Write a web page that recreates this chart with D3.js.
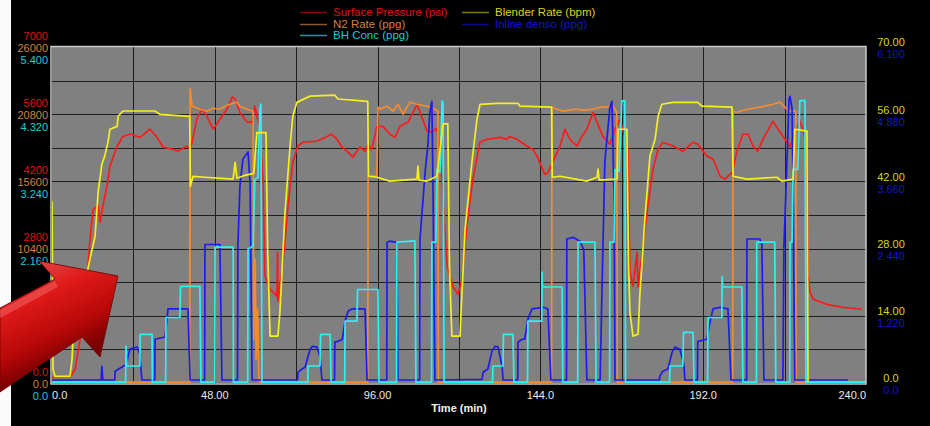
<!doctype html>
<html lang="en">
    <head>
        <meta charset="UTF-8">
        <title>d3 - Treating chart</title>
        <style>
            body { margin: 0; background: #000; }
            text { font-family: "Liberation Sans", Arial, sans-serif; }
        </style>
    </head>
    <body>
        <script src="https://d3js.org/d3.v7.min.js"></script>
        <script>
            // [time (min), value]
            var pressure = [[0,100],[5.3,104],[6.8,270],[8.8,1100],[10.6,2420],[11.2,2980],[12.1,3600],[13.6,3670],[14.2,3330],[15,3670],[16.2,4080],[17.1,4500],[19.2,4920],[20.9,5120],[23,5170],[25.9,5100],[28.9,5270],[31,5100],[32.7,4900],[35.7,4850],[37.1,4810],[39.8,4920],[40.7,4850],[41.3,5000],[42.7,5480],[44.2,5690],[45.7,5540],[47.5,5270],[49.5,5480],[51.6,5690],[53.1,5940],[54,5900],[55.4,5620],[57.5,5420],[59,5420],[59.8,5750],[61.3,5270],[62.2,4230],[62.8,2210],[64.3,1940],[66.3,1790],[66.5,2710],[66.6,1690],[68.1,2500],[69.6,3670],[71,4580],[72.5,4920],[74,5000],[78.1,5020],[81.1,5120],[82.5,5170],[84,5060],[85.5,4900],[87,4810],[88.7,4690],[90.8,4900],[92.3,4810],[93.2,4960],[94.3,4850],[95.8,5330],[97.6,5330],[99.6,5170],[101.1,5100],[102.6,5330],[105,5420],[107.6,5790],[108.5,5620],[110.6,5230],[112,5210],[113.5,5300],[115,4200],[116.5,2420],[118.2,2000],[119.7,1830],[120.9,2150],[122.3,3250],[124.1,4230],[126.2,5000],[128.2,5060],[132.1,5100],[134.1,5060],[135,5120],[137.1,5060],[140,4920],[141.8,4850],[143,4710],[145.3,4330],[146.2,4370],[147.7,4600],[149.8,4920],[151.2,5270],[152.7,5060],[154.8,4920],[156.2,5120],[157.7,5270],[159.5,5620],[162.4,5120],[164.5,4960],[166,5270],[167.5,5480],[169.8,4850],[170.4,2290],[171.3,2000],[172.5,2710],[172.8,1980],[174.2,2830],[175.7,3670],[177.2,4440],[178.7,4850],[180.1,5000],[183.1,4920],[186,4810],[189,5000],[190.4,4960],[193.1,4710],[194.9,4650],[197,4290],[198.4,4230],[200.5,4370],[201.9,4790],[203.7,5170],[205.2,5170],[206.7,4920],[208.1,4810],[209.6,5060],[212.6,5440],[213.7,5310],[216.7,5000],[217.6,4900],[218.5,5100],[220.5,5440],[221.4,5270],[222.6,4920],[222.9,2290],[223.5,1880],[224.4,1730],[228.5,1620],[233.2,1560],[238.8,1520]];

            var n2Rate = [[0,0],[40.6,0],[40.7,22700],[41.3,21360],[43.6,21120],[45.7,20970],[47.5,21200],[49.5,21120],[51,21350],[52.5,21510],[54.5,21670],[55.4,21360],[57.5,21120],[59.3,20970],[59.5,3330],[59.9,9520],[60.2,1780],[60.6,5650],[61,230],[61.3,0],[93.1,0],[93.2,15940],[95.8,15940],[96.1,21280],[96.7,21120],[98.8,21360],[100.5,20970],[102,21510],[103.5,20740],[105.5,21670],[107.6,21510],[110.6,21360],[112.9,21120],[113.8,20970],[113.9,0],[147.3,0],[147.4,21280],[150.6,20970],[154.2,21120],[157.1,21050],[159.5,21120],[161.6,21280],[163.6,21280],[165.1,21510],[166.5,20890],[166.7,0],[200.7,0],[200.8,20970],[201.9,20890],[204.9,21120],[208.7,21280],[212.6,21510],[214.6,21670],[216.1,21280],[217.6,20970],[219.3,20970],[219.4,0],[240,0]];

            var bhConc = [[0,0],[21.7,0],[21.8,0.58],[22.1,0.26],[25.9,0.26],[26,0.77],[29.5,0.77],[29.6,0],[33.5,0],[33.6,1.04],[37.7,1.04],[37.9,1.54],[43.6,1.54],[43.9,0],[48,0],[48.1,2.17],[53.4,2.17],[53.5,0],[57.7,0],[57.8,2.14],[59.3,2.19],[59.8,3.26],[60.7,3.29],[61.3,4.39],[61.6,4.47],[61.9,0],[75.4,0],[75.5,0.26],[79,0.26],[79.2,0.77],[82,0.77],[82.3,0],[86.3,0],[86.4,0.98],[89.9,0.98],[90.1,1.49],[96.1,1.49],[96.4,0],[101.6,0],[101.7,2.25],[107,2.27],[107.3,0],[111.9,0],[112,2.25],[113.2,2.25],[113.5,3.42],[114.4,3.37],[115,4.52],[115.3,4.5],[115.6,0],[129.9,0],[130,0.26],[133,0.26],[133.1,0.77],[135.9,0.77],[136.2,0],[140.2,0],[140.3,0.98],[144.4,0.98],[144.5,1.77],[144.6,1.53],[150.4,1.53],[150.6,0],[155,0],[155.1,2.25],[160.1,2.25],[160.4,0],[164.4,0],[164.5,2.25],[165.7,2.25],[166,3.42],[167.2,3.39],[168,4.52],[168.9,4.52],[169.1,0],[182.1,0],[182.2,0.26],[186,0.26],[186.2,0.8],[189,0.8],[189.3,0],[193.3,0],[193.4,1.04],[197.5,1.04],[197.6,1.7],[197.7,1.53],[203.4,1.53],[203.7,0],[207.7,0],[207.8,2.25],[213.1,2.25],[213.4,0],[217.5,0],[217.6,2.25],[218.2,2.25],[218.5,3.42],[219.9,3.42],[220.5,4.52],[222,4.53],[222.3,0],[240,0]];

            var blenderRate = [[0,37.7],[0.3,2.7],[0.9,1.2],[5.3,1.2],[5.9,4.8],[6.2,9],[8,14],[9.5,20],[11,25],[12.7,30.4],[13.6,39.6],[14.7,45.4],[15.5,47],[16.5,50],[17.1,52.7],[19.2,53.3],[19.5,55.4],[20.9,56.5],[30.4,56.5],[31.8,55.8],[40.6,55.4],[40.8,40.8],[41.6,42.9],[45.1,42.7],[53.4,42.3],[54,45.8],[54.5,42.5],[56.9,43.1],[59.5,43.5],[60.4,52],[63.1,52],[63.6,27],[64.3,9.6],[66.6,9.6],[67.2,14.6],[68.7,35.4],[70.2,49.2],[71,55.4],[72.2,58.3],[76.1,59.6],[83.4,59.8],[84.3,59],[93.1,58.5],[93.3,42.9],[95.8,42.7],[99.6,41.9],[107.6,42.3],[107.9,45],[108.2,42.1],[110.6,41.9],[113.5,42.9],[115.3,53.8],[116.7,53.8],[117.2,24],[117.9,9.6],[120.3,9.6],[120.6,14.6],[121.8,31.9],[123.8,45.8],[125.3,54.8],[126.2,57.9],[131.2,58.1],[137.4,58.1],[138,57.5],[147.3,57.3],[147.5,42.7],[149.8,42.9],[157.7,41.9],[160.7,42.7],[161,44.4],[161.3,42.1],[166.6,42.3],[166.9,52.7],[169.5,52.7],[170,24],[170.4,14.6],[171.3,9.6],[172.8,10],[173.3,17.9],[174.8,34],[176.3,47.1],[177.8,50.6],[178.7,55.4],[179.8,57.9],[183.1,58.3],[190.4,58.3],[191.6,57.5],[200.5,57.3],[200.8,42.9],[204.9,42.3],[213.7,42.7],[215.2,41.9],[218.5,42.3],[219,52.7],[222.6,52.3],[222.9,0]];

            var inlineDens = [[0,0.04],[14.5,0.04],[14.7,0.29],[15,0.04],[18.5,0.04],[18.6,0.2],[22.1,0.33],[22.4,0.47],[23,0.6],[25.1,0.64],[25.9,0.51],[26.5,0.04],[30.3,0.04],[30.4,0.78],[33.3,0.82],[33.9,1.14],[34.2,1.33],[40.1,1.33],[40.7,0.04],[45,0.04],[45.1,2.5],[49.5,2.5],[50.1,0.04],[54.7,0.04],[54.8,2.45],[55.4,3.56],[56.3,4.05],[57.8,4.18],[58.4,3.6],[59,0.04],[72.4,0.04],[72.5,0.18],[73.7,0.24],[74.6,0.27],[76.1,0.6],[76.7,0.65],[78.1,0.64],[79,0.47],[79.6,0.04],[83.3,0.04],[83.4,0.73],[84.3,0.74],[85.6,0.78],[86.4,1.11],[87.3,1.29],[88.4,1.33],[92.3,1.33],[92.9,0.04],[98.7,0.04],[98.8,2.54],[99.6,2.56],[101.7,2.54],[102,0.04],[108.4,0.04],[108.5,2.6],[109.4,3.32],[110,3.81],[110.8,4.28],[111.4,4.9],[112,5.1],[112.3,3.7],[112.9,0.04],[126.8,0.05],[127.1,0.18],[128.5,0.24],[129.7,0.56],[130.6,0.65],[131.5,0.64],[132.7,0.29],[133,0.04],[137.3,0.04],[137.4,0.73],[138.6,0.78],[139.4,0.78],[140.3,1.14],[141.5,1.33],[144.8,1.36],[146.2,1.33],[147.1,0.04],[151.7,0.04],[151.8,2.6],[153.6,2.63],[155.7,2.56],[156.8,2.4],[157.7,0.04],[161.6,0.04],[162.1,1.5],[163,4.0],[164.5,5.0],[165.1,5.1],[165.7,3.4],[166,0.04],[179.1,0.04],[179.2,0.11],[180.1,0.2],[181.6,0.24],[182.8,0.54],[183.7,0.64],[185.1,0.6],[186.3,0.33],[186.6,0.04],[190.3,0.04],[190.4,0.74],[193.1,0.78],[194,1.09],[194.9,1.33],[197,1.36],[199.3,1.33],[200.2,0.04],[204.8,0.04],[204.9,2.6],[208.7,2.6],[209.3,2.5],[209.9,0.04],[215.5,0.04],[215.8,2.47],[216.7,4.0],[217.3,5.14],[217.6,5.19],[218.2,4.96],[218.5,3.4],[219,0.04],[234.7,0.04]];

            var xTicks = [0, 48, 96, 144, 192, 240];
            var xTickLabels = ["0.0", "48.00", "96.00", "144.0", "192.0", "240.0"];
            var pressureTicks = [0, 1400, 2800, 4200, 5600, 7000];
            var n2Ticks = [0, 5200, 10400, 15600, 20800, 26000];
            var concTicks = [0, 1.08, 2.16, 3.24, 4.32, 5.4];
            var rateTicks = [0, 14, 28, 42, 56, 70];
            var densTicks = [0, 1.22, 2.44, 3.66, 4.88, 6.1];

            var legendNames = ["Surface Pressure (psi)", "N2 Rate (ppg)", "BH Conc (ppg)", "Blender Rate (bpm)", "Inline denso (ppg)"];

            var width = 930,
                height = 426,
                plotL = 52, plotR = 866, plotT = 47, plotB = 383;

            var svg = d3.select("body").append("svg")
                .attr("width", width)
                .attr("height", height)
                .style("display", "block");

            svg.append("rect").attr("width", width).attr("height", height).attr("fill", "#000");
            // white strip on the left edge of the screenshot
            svg.append("rect").attr("x", 0).attr("y", 0).attr("width", 11).attr("height", height).attr("fill", "#fbfbfb");

            var x = d3.scaleLinear().domain([0, 240]).range([plotL, plotR]);
            var yPress = d3.scaleLinear().domain([0, 7000]).range([plotB, plotT]);
            var yN2 = d3.scaleLinear().domain([0, 26000]).range([plotB, plotT]);
            var yConc = d3.scaleLinear().domain([0, 5.4]).range([plotB, plotT]);
            var yRate = d3.scaleLinear().domain([0, 70]).range([plotB, plotT]);
            var yDens = d3.scaleLinear().domain([0, 6.1]).range([plotB, plotT]);

            // plot background
            svg.append("rect")
                .attr("x", plotL).attr("y", plotT)
                .attr("width", plotR - plotL).attr("height", plotB - plotT)
                .attr("fill", "#808080");

            // grid: 10 divisions each way
            var grid = svg.append("g");
            grid.selectAll("line.h")
                .data(d3.range(7, 70, 7))
                .enter().append("line")
                    .attr("x1", plotL).attr("x2", plotR)
                    .attr("y1", function(d) { return Math.round(yRate(d)) + 0.5; })
                    .attr("y2", function(d) { return Math.round(yRate(d)) + 0.5; })
                    .attr("stroke", "#1e1e1e").attr("stroke-width", 1);
            grid.selectAll("line.v")
                .data(d3.range(24, 240, 24))
                .enter().append("line")
                    .attr("y1", plotT).attr("y2", plotB)
                    .attr("x1", function(d) { return Math.round(x(d)) + 0.5; })
                    .attr("x2", function(d) { return Math.round(x(d)) + 0.5; })
                    .attr("stroke", "#1e1e1e").attr("stroke-width", 1);

            // drawing order: blue under cyan so the zero baseline reads cyan
            var series = [
                { data: pressure, y: yPress, color: "#ff1a1a" },
                { data: n2Rate, y: yN2, color: "#f68a2e" },
                { data: inlineDens, y: yDens, color: "#1c1cee" },
                { data: bhConc, y: yConc, color: "#2af2f2" },
                { data: blenderRate, y: yRate, color: "#f4f01c" }
            ];

            svg.append("clipPath").attr("id", "plot")
                .append("rect").attr("x", plotL).attr("y", plotT - 2)
                .attr("width", plotR - plotL).attr("height", plotB - plotT + 2);

            var lines = svg.append("g").attr("clip-path", "url(#plot)");
            series.forEach(function(s) {
                var line = d3.line()
                    .x(function(d) { return x(d[0]); })
                    .y(function(d) { return s.y(d[1]) - 0.8; });
                lines.append("path")
                    .datum(s.data)
                    .attr("d", line)
                    .attr("fill", "none")
                    .attr("stroke", s.color)
                    .attr("stroke-width", 1.7)
                    .attr("stroke-linejoin", "round");
            });

            // plot frame
            svg.append("rect")
                .attr("x", plotL - 1).attr("y", plotT - 0.5)
                .attr("width", plotR - plotL + 1).attr("height", plotB - plotT + 1.5)
                .attr("fill", "none")
                .attr("stroke", "#c8c8c8")
                .attr("stroke-width", 1.5);

            // left axis labels (three stacked scales)
            function fmt(f) {
                return function(v) { return v === 0 ? "0.0" : d3.format(f)(v); };
            }
            var leftAxes = [
                { ticks: pressureTicks, y: yPress, f: fmt("d"), color: "#e01010", dy: -11 },
                { ticks: n2Ticks, y: yN2, f: fmt("d"), color: "#d5813c", dy: 1 },
                { ticks: concTicks, y: yConc, f: fmt(".3f"), color: "#1ec8d2", dy: 13 }
            ];
            leftAxes.forEach(function(a) {
                svg.append("g").selectAll("text")
                    .data(a.ticks)
                    .enter().append("text")
                        .attr("x", 48)
                        .attr("y", function(d) { return a.y(d) + a.dy; })
                        .attr("dy", "0.35em")
                        .attr("text-anchor", "end")
                        .attr("font-size", 11)
                        .attr("fill", a.color)
                        .text(a.f);
            });

            var rightAxes = [
                { ticks: rateTicks, y: yRate, f: fmt(".2f"), color: "#d8d41a", dy: -4.5 },
                { ticks: densTicks, y: yDens, f: fmt(".3f"), color: "#1414d4", dy: 7.5 }
            ];
            rightAxes.forEach(function(a) {
                svg.append("g").selectAll("text")
                    .data(a.ticks)
                    .enter().append("text")
                        .attr("x", 891)
                        .attr("y", function(d) { return a.y(d) + a.dy; })
                        .attr("dy", "0.35em")
                        .attr("text-anchor", "middle")
                        .attr("font-size", 11)
                        .attr("fill", a.color)
                        .text(a.f);
            });

            // x axis labels
            svg.append("g").selectAll("text")
                .data(xTicks)
                .enter().append("text")
                    .attr("x", function(d) { return x(d); })
                    .attr("y", 395)
                    .attr("dy", "0.35em")
                    .attr("text-anchor", function(d, i) { return i === 0 ? "start" : (i === xTicks.length - 1 ? "end" : "middle"); })
                    .attr("font-size", 11)
                    .attr("fill", "#ececec")
                    .text(function(d, i) { return xTickLabels[i]; });

            svg.append("text")
                .attr("x", (plotL + plotR) / 2)
                .attr("y", 408)
                .attr("dy", "0.35em")
                .attr("text-anchor", "middle")
                .attr("font-size", 11)
                .attr("font-weight", "bold")
                .attr("fill", "#f0f0f0")
                .text("Time (min)");

            // legend
            var legendLine = ["#7e0a0a", "#8a5a2c", "#00a4a8", "#7e7c08", "#0a0a86"];
            var legendText = ["#e01010", "#d5813c", "#1ec8d2", "#d8d41a", "#1414d4"];
            var legendPos = [[300, 12], [300, 24], [300, 35], [462, 12], [462, 24]];
            var legend = svg.append("g").selectAll("g")
                .data(legendNames)
                .enter().append("g")
                    .attr("transform", function(d, i) { return "translate(" + legendPos[i][0] + "," + legendPos[i][1] + ")"; });
            legend.append("line")
                .attr("x1", 0).attr("x2", 27).attr("y1", 0.5).attr("y2", 0.5)
                .attr("stroke", function(d, i) { return legendLine[i]; })
                .attr("stroke-width", 1.5);
            legend.append("text")
                .attr("x", 33).attr("dy", "0.35em")
                .attr("font-size", 11.5)
                .attr("fill", function(d, i) { return legendText[i]; })
                .text(function(d) { return d; });

            // big red annotation arrow
            var defs = svg.append("defs");
            var grad = defs.append("linearGradient").attr("id", "arrowGrad")
                .attr("gradientUnits", "userSpaceOnUse")
                .attr("x1", 45).attr("y1", 268).attr("x2", 85).attr("y2", 350);
            grad.append("stop").attr("offset", "0").attr("stop-color", "#e03a3a");
            grad.append("stop").attr("offset", "0.25").attr("stop-color", "#e01a1a");
            grad.append("stop").attr("offset", "0.7").attr("stop-color", "#b80808");
            grad.append("stop").attr("offset", "1").attr("stop-color", "#7a0000");

            var arrowPts = [[118, 276], [39, 261], [55, 279], [0, 308], [0, 392], [82, 337], [100, 357]];
            svg.append("path")
                .attr("d", d3.line()(arrowPts) + "Z")
                .attr("fill", "url(#arrowGrad)")
                .attr("stroke", "#6a0000")
                .attr("stroke-width", 0.8);
            // highlight along the top of the shaft
            svg.append("path")
                .attr("d", d3.line()([[55, 281], [0, 310], [0, 318], [58, 287]]) + "Z")
                .attr("fill", "#f06060")
                .attr("opacity", 0.55);
        </script>
    </body>
</html>
